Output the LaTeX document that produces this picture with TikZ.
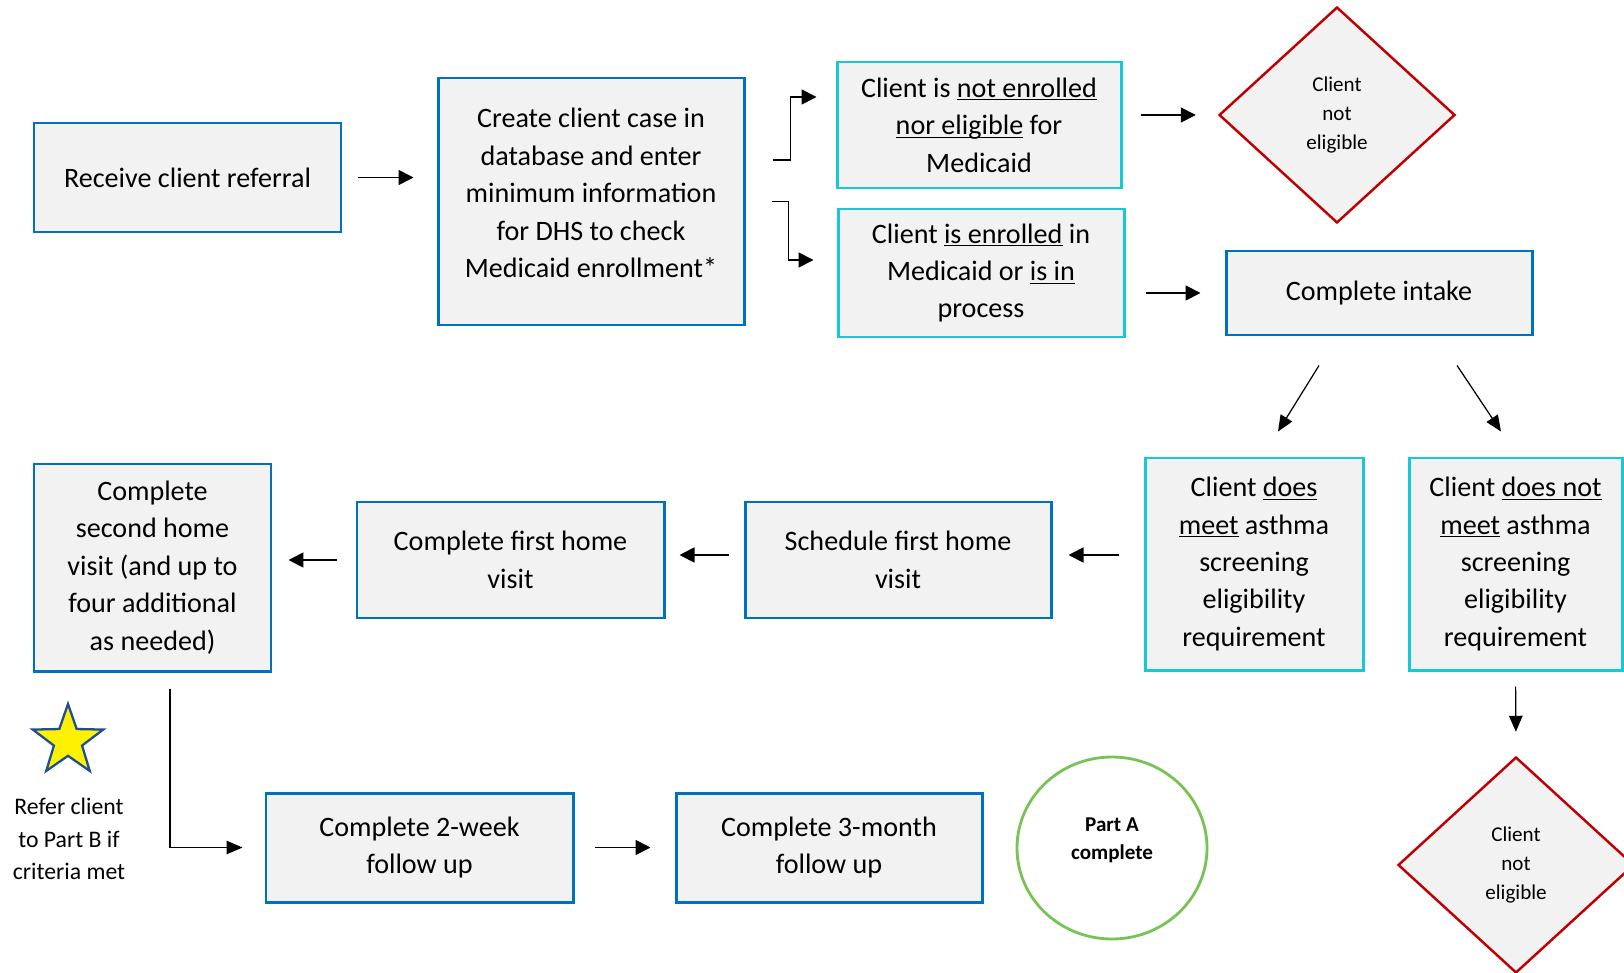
\documentclass[tikz,border=0pt]{standalone}
\usepackage{fontspec}
\setmainfont{Carlito}
\definecolor{stepBlue}{RGB}{0, 112, 192}
\definecolor{stepCyan}{RGB}{23, 200, 214}
\definecolor{stopRed}{RGB}{192, 0, 0}
\definecolor{doneGreen}{RGB}{120, 195, 85}
\definecolor{boxFill}{RGB}{242, 242, 242}
\definecolor{starBlue}{RGB}{31, 78, 150}
\usepackage{tikz}
\usetikzlibrary{positioning, calc, shapes.geometric, arrows.meta}
\newcommand{\uln}[1]{\underline{\smash{#1}}}
\tikzset{
  stepboxB/.style={rectangle, draw=stepBlue, fill=boxFill, line width=1.7pt,
                   align=center, inner sep=0pt,
                   font=\fontsize{16}{21.3}\selectfont},
  stepboxC/.style={rectangle, draw=stepCyan, fill=boxFill, line width=1.7pt,
                   align=center, inner sep=0pt,
                   font=\fontsize{16}{21.3}\selectfont},
  diamR/.style={diamond, draw=stopRed, fill=boxFill, line width=1.4pt,
                minimum width=4.72cm, minimum height=4.32cm,
                align=center, inner sep=0pt,
                font=\fontsize{12}{16.5}\selectfont},
  endG/.style={ellipse, draw=doneGreen, line width=1.6pt,
               minimum width=3.8cm, minimum height=3.64cm,
               align=center, inner sep=0pt,
               font=\fontsize{12}{16}\selectfont\bfseries},
  starY/.style={star, star points=5, star point ratio=2.5,
                draw=starBlue, fill=yellow, line width=1.3pt,
                minimum size=1.48cm, inner sep=0pt},
}

\begin{document}
\begin{tikzpicture}[
    arrow/.style={-{Triangle[length=0.3cm, width=0.3cm]}, line width=1pt},
    thinarrow/.style={-{Triangle[length=0.32cm, width=0.27cm]}, line width=0.7pt},
  ]
    \useasboundingbox (0,0) rectangle (32.48,-19.46);
    \clip (0,0) rectangle (32.48,-19.46);

    % Referral and Medicaid check
    \node[stepboxB, minimum width=6.14cm, minimum height=2.18cm] (referral) at (3.75,-3.55)
         {Receive client referral};
    \node[stepboxB, minimum width=6.12cm, minimum height=4.94cm] (create) at (11.82,-4.03)
         {Create client case in\\database and enter\\minimum information\\for DHS to check\\Medicaid enrollment*\\[-0.41cm]};
    \node[stepboxC, minimum width=5.68cm, minimum height=2.52cm] (notenrolled) at (19.58,-2.50)
         {Client is \uln{not enrolled}\\\uln{nor eligible} for\\Medicaid};
    \node[stepboxC, minimum width=5.72cm, minimum height=2.56cm] (enrolled) at (19.62,-5.46)
         {Client \uln{is enrolled} in\\Medicaid or \uln{is in}\\process};
    \node[diamR] (noteligA) at (26.74,-2.30) {Client\\not\\eligible};
    \node[stepboxB, minimum width=6.12cm, minimum height=1.68cm] (intake) at (27.58,-5.86)
         {Complete intake};

    \draw[arrow, shorten <=0.32cm, shorten >=0.46cm] (referral.east) -- (referral.east -| create.west);
    \draw[arrow, shorten <=0.54cm, shorten >=0.38cm]
         ([yshift=0.83cm]create.east) -- ++(0.9,0) |- ([yshift=0.56cm]notenrolled.west);
    \draw[arrow, shorten <=0.52cm, shorten >=0.46cm]
         (create.east) -- ++(0.86,0) |- ([yshift=0.26cm]enrolled.west);
    \draw[arrow, shorten <=0.36cm, shorten >=0.44cm] (notenrolled.east |- noteligA) -- (noteligA.west);
    \draw[arrow, shorten <=0.40cm, shorten >=0.48cm] (enrolled.east |- intake) -- (intake.west);

    % Asthma screening
    \node[stepboxC, minimum width=4.36cm, minimum height=4.24cm] (meets) at (25.08,-11.28)
         {Client \uln{does}\\\uln{meet} asthma\\screening\\eligibility\\requirement};
    \node[stepboxC, minimum width=4.26cm, minimum height=4.24cm] (notmeets) at (30.31,-11.28)
         {Client \uln{does not}\\\uln{meet} asthma\\screening\\eligibility\\requirement};
    \node[diamR] (noteligB) at (30.32,-17.30) {Client\\not\\eligible};

    \draw[thinarrow] ([xshift=-1.2cm, yshift=-0.58cm]intake.south) -- ([xshift=0.48cm, yshift=0.5cm]meets.north);
    \draw[thinarrow] ([xshift=1.56cm, yshift=-0.58cm]intake.south) -- ([xshift=-0.29cm, yshift=0.5cm]notmeets.north);
    \draw[thinarrow, shorten <=0.30cm, shorten >=0.48cm] (notmeets.south) -- (noteligB.north);

    % Home visits
    \node[stepboxB, minimum width=6.12cm, minimum height=2.32cm] (schedule) at (17.96,-11.20)
         {Schedule first home\\visit};
    \node[stepboxB, minimum width=6.14cm, minimum height=2.32cm] (firstvisit) at (10.21,-11.20)
         {Complete first home\\visit};
    \node[stepboxB, minimum width=4.74cm, minimum height=4.14cm] (secondvisit) at (3.05,-11.35)
         {Complete\\second home\\visit (and up to\\four additional\\as needed)};

    \draw[arrow, shorten <=0.50cm, shorten >=0.32cm] ([yshift=0.18cm]meets.west) -- ([yshift=0.18cm]meets.west -| schedule.east);
    \draw[arrow, shorten <=0.30cm, shorten >=0.28cm] ([yshift=0.1cm]schedule.west) -- ([yshift=0.1cm]schedule.west -| firstvisit.east);
    \draw[arrow, shorten <=0.38cm, shorten >=0.32cm] (firstvisit.west) -- (firstvisit.west -| secondvisit.east);

    % Follow up
    \node[stepboxB, minimum width=6.14cm, minimum height=2.18cm] (twoweek) at (8.39,-16.95)
         {Complete 2-week\\follow up};
    \node[stepboxB, minimum width=6.12cm, minimum height=2.18cm] (threemonth) at (16.58,-16.95)
         {Complete 3-month\\follow up};
    \node[endG] (partA) at (22.24,-16.96) {Part A\\complete\\[-0.2cm]};

    \draw[thinarrow, shorten <=0.32cm, shorten >=0.44cm] ([xshift=0.35cm]secondvisit.south) |- (twoweek.west);
    \draw[arrow, shorten <=0.40cm, shorten >=0.48cm] (twoweek.east) -- (threemonth.west);

    % Part B note
    \node[starY] (star) at (1.36,-14.82) {};
    \node[align=center, font=\fontsize{13.5}{18.5}\selectfont] (refer) at (1.38,-16.78)
         {Refer client\\to Part B if\\criteria met};
\end{tikzpicture}
\end{document}
